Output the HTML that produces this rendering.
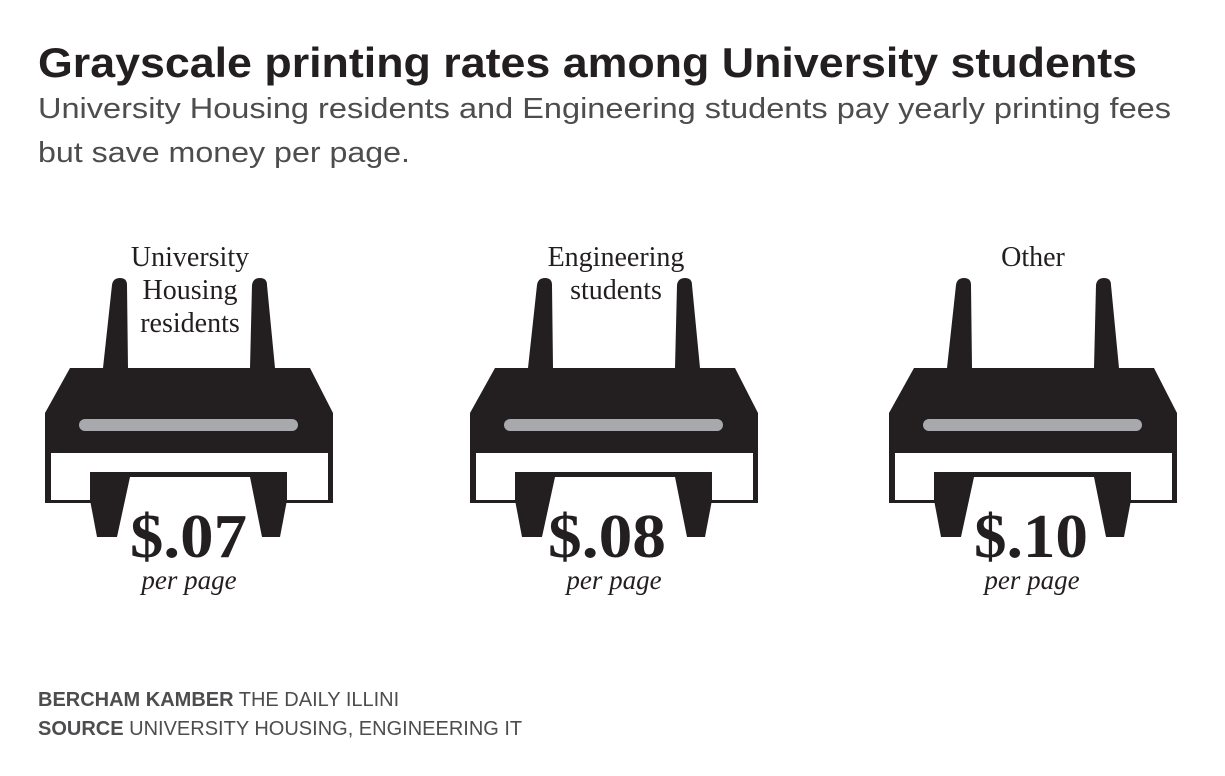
<!DOCTYPE html>
<html><head><style>body{margin:0;background:#fff}svg{display:block}</style></head><body>
<svg width="1225" height="776" xmlns="http://www.w3.org/2000/svg">
<defs>
<g id="p">
<path d="M112,285 Q113,278 120,278 Q127,278 127,285 L128,368 L103,368 Z" fill="#231f20"/>
<path d="M252,285 Q253,278 260,278 Q267,278 267,285 L275,368 L250,368 Z" fill="#231f20"/>
<path d="M70,368 L310,368 L333,413 L333,503 L45,503 L45,413 Z" fill="#231f20"/>
<rect x="79" y="419" width="219" height="12" rx="6" fill="#a7a9ac"/>
<rect x="51" y="453" width="277" height="47" fill="#fff"/>
<rect x="90" y="472" width="197" height="31" fill="#231f20"/>
<path d="M90,500 L130,500 L117,537 L97,537 Z" fill="#231f20"/>
<path d="M250,500 L287,500 L280,537 L262,537 Z" fill="#231f20"/>
<path d="M130,477 L250,477 L262,537 L117,537 Z" fill="#fff"/>
</g>
</defs>
<text x="38" y="77" font-family="Liberation Sans, sans-serif" font-weight="bold" font-size="42" fill="#231f20" textLength="1099" lengthAdjust="spacingAndGlyphs">Grayscale printing rates among University students</text>
<g font-family="Liberation Sans, sans-serif" font-size="29" fill="#4d4d4f">
<text x="38" y="118" textLength="1133" lengthAdjust="spacingAndGlyphs">University Housing residents and Engineering students pay yearly printing fees</text>
<text x="38" y="162" textLength="372" lengthAdjust="spacingAndGlyphs">but save money per page.</text>
</g>
<use href="#p"/>
<use href="#p" x="425"/>
<use href="#p" x="844"/>
<g font-family="Liberation Serif, serif" font-size="28" fill="#231f20" text-anchor="middle">
<text x="190" y="266">University</text>
<text x="190" y="299">Housing</text>
<text x="190" y="332">residents</text>
<text x="616" y="266">Engineering</text>
<text x="616" y="299">students</text>
<text x="1033" y="266">Other</text>
</g>
<g font-family="Liberation Serif, serif" font-size="62" font-weight="bold" fill="#231f20">
<text x="130" y="557" textLength="117" lengthAdjust="spacingAndGlyphs">$.07</text>
<text x="548" y="557" textLength="118" lengthAdjust="spacingAndGlyphs">$.08</text>
<text x="974" y="557" textLength="114" lengthAdjust="spacingAndGlyphs">$.10</text>
</g>
<g font-family="Liberation Serif, serif" font-size="27" font-style="italic" fill="#231f20" text-anchor="middle">
<text x="189" y="589">per page</text>
<text x="614" y="589">per page</text>
<text x="1032" y="589">per page</text>
</g>
<g font-family="Liberation Sans, sans-serif" font-size="20" fill="#4d4d4f">
<text x="38" y="706"><tspan font-weight="bold">BERCHAM KAMBER</tspan> THE DAILY ILLINI</text>
<text x="38" y="735"><tspan font-weight="bold">SOURCE</tspan> UNIVERSITY HOUSING, ENGINEERING IT</text>
</g>
</svg>
</body></html>
